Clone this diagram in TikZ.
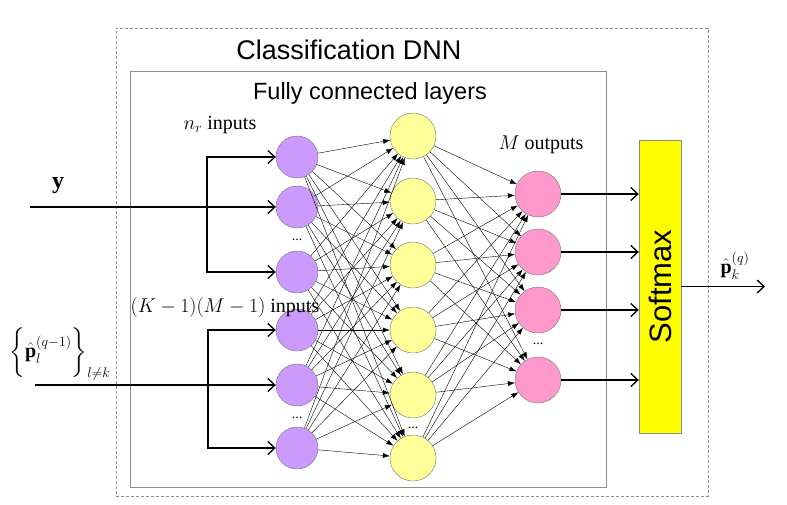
\RequirePackage{fix-cm}
\documentclass[tikz,border=0pt]{standalone}
\usepackage{amsmath}
\usepackage{fontspec}
\setmainfont{Liberation Serif}
\newfontfamily\arialfont{Liberation Sans}
\usepackage{tikz}
\usetikzlibrary{arrows,arrows.meta,shapes}

\begin{document}
\begin{tikzpicture}[x=1pt,y=-1pt]
    \definecolor{mypurple}{RGB}{204,153,255}
    \definecolor{mylight}{RGB}{255,255,153}
    \definecolor{mypink}{RGB}{255,153,204}
    \definecolor{mysoft}{RGB}{255,255,0}
    \definecolor{myframe}{RGB}{140,140,140}

    \tikzstyle{outerbox}=[rectangle,draw=myframe,dash pattern=on 3pt off 2pt,thin,minimum width=592pt,minimum height=468pt]  % 外框
    \tikzstyle{innerbox}=[rectangle,draw=myframe,thin,minimum width=476pt,minimum height=416pt]  % 全连接层框
    \tikzstyle{inode}=[circle,draw=black!55,thin,fill=mypurple,minimum size=42pt,inner sep=0pt]  % 输入层
    \tikzstyle{hnode}=[circle,draw=black!55,thin,fill=mylight,minimum size=46pt,inner sep=0pt]  % 隐层
    \tikzstyle{onode}=[circle,draw=black!55,thin,fill=mypink,minimum size=46pt,inner sep=0pt]  % 输出层
    \tikzstyle{softbox}=[rectangle,draw=myframe,thin,fill=mysoft,minimum width=42pt,minimum height=293pt]
    \tikzstyle{link}=[-{Latex[length=7pt,width=5pt]},line width=0.4pt]  % 全连接线
    \tikzstyle{feed}=[-{Straight Barb[length=7pt,width=13pt]},line width=1.3pt]  % 粗箭头
    \tikzstyle{dots}=[font=\fontsize{14}{16}\selectfont,inner sep=0pt]
    \tikzstyle{mtext}=[font=\fontsize{20}{24}\selectfont,inner sep=1pt]  % 公式标签

    \useasboundingbox (0,0) rectangle (787,504);

    % 外框和标题
    \node[outerbox](dnn) at (412,262){};
    \node[innerbox](fcl) at (368,279){};
    \node[font=\arialfont\fontsize{27}{30}\selectfont](title) at (349,50){Classification DNN};
    \node[font=\arialfont\fontsize{23.5}{26}\selectfont](sub) at (370,93){Fully connected layers};

    % 输入层
    \node[inode](in1) at (297,157){};
    \node[inode](in2) at (297,207){};
    \node[inode](in3) at (297,272){};
    \node[inode](in4) at (297,330){};
    \node[inode](in5) at (297,385){};
    \node[inode](in6) at (297,448){};
    \node[dots](d1) at (297,240){...};
    \node[dots](d2) at (297,418){...};

    % 隐层
    \node[hnode](h1) at (413,136){};
    \node[hnode](h2) at (413,201){};
    \node[hnode](h3) at (413,265){};
    \node[hnode](h4) at (413,330){};
    \node[hnode](h5) at (413,395){};
    \node[hnode](h6) at (413,458){};
    \node[dots](d3) at (413,428){...};

    % 输出层
    \node[onode](out1) at (538,194){};
    \node[onode](out2) at (538,252){};
    \node[onode](out3) at (538,310){};
    \node[onode](out4) at (538,380){};
    \node[dots](d4) at (538,344){...};

    % Softmax
    \node[softbox](sm) at (660,286.5){};
    \node[rotate=90,font=\arialfont\fontsize{31}{34}\selectfont](smtext) at (660,286.5){Softmax};

    % 标签
    \node[mtext](nr) at (220,125){$n_r$ inputs};
    \node[mtext](km) at (225,307){$(K-1)(M-1)$ inputs};
    \node[mtext](mo) at (541,145){$M$ outputs};
    \node[mtext,font=\fontsize{24}{28}\selectfont](ylab) at (58,186){$\mathbf{y}$};
    \node[mtext](plab) at (60,354){$\left\{\rule[-19pt]{0pt}{48pt}\hat{\mathbf{p}}_l^{(q-1)}\right\}_{l\neq k}$};
    \node[mtext](pout) at (735,266){$\hat{\mathbf{p}}_k^{(q)}$};

    % 输入线
    \coordinate(yin) at (30,207);
    \coordinate(ybr) at (207,207);
    \coordinate(pin) at (35,385);
    \coordinate(pbr) at (208,385);
    \coordinate(res) at (765,286.5);
    \draw[feed](yin)--(in2);
    \draw[feed](ybr)|-(in1);
    \draw[feed](ybr)|-(in3);
    \draw[feed](pin)--(in5);
    \draw[feed](pbr)|-(in4);
    \draw[feed](pbr)|-(in6);

    % 全连接
    \foreach \i in {1,...,6}
        \foreach \j in {1,...,6}
            \draw[link](in\i)--(h\j);
    \foreach \i in {1,...,6}
        \foreach \j in {1,...,4}
            \draw[link](h\i)--(out\j);

    % 输出线
    \draw[feed](out1)--(out1-|sm.west);
    \draw[feed](out2)--(out2-|sm.west);
    \draw[feed](out3)--(out3-|sm.west);
    \draw[feed](out4)--(out4-|sm.west);
    \draw[feed](sm.east)--(res);
\end{tikzpicture}
\end{document}
